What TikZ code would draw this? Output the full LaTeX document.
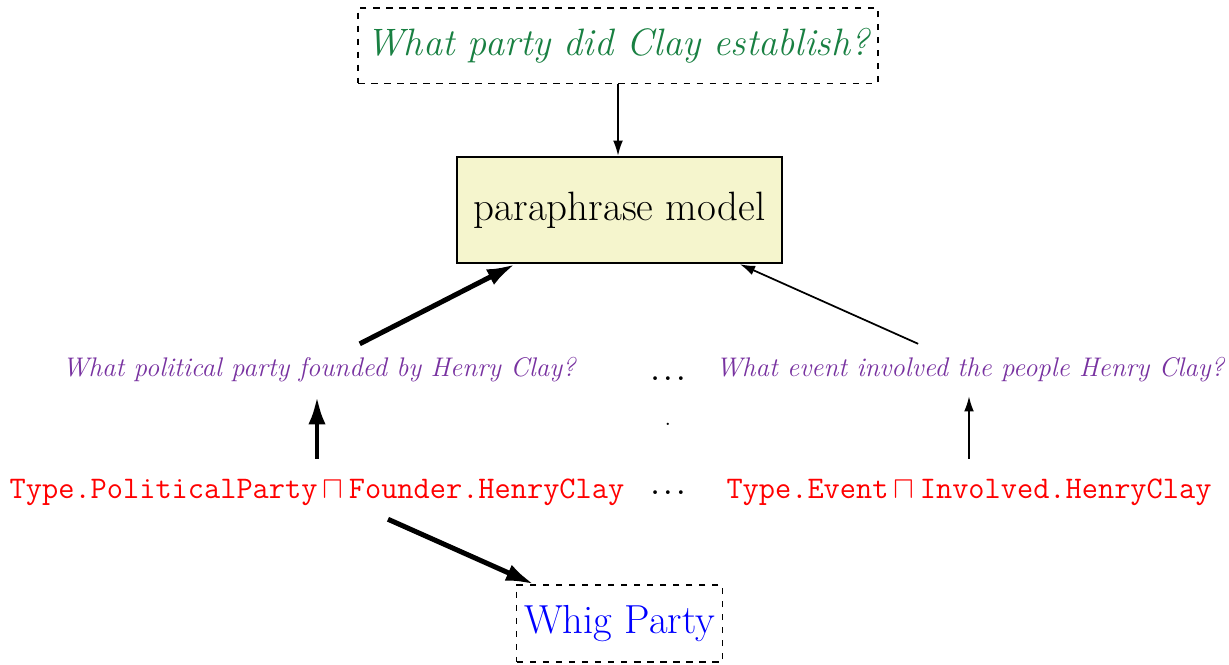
\documentclass[tikz,border=0pt]{standalone}
\usetikzlibrary{arrows.meta}
\definecolor{qgreen}{RGB}{25,128,66}
\definecolor{qpurple}{RGB}{120,50,160}
\definecolor{modelfill}{RGB}{245,245,205}
\begin{document}
\begin{tikzpicture}[x=1.62cm, y=-1.62cm,
  dbox/.style={draw, dashed, line width=0.6pt},
  para/.style={text=qpurple, font=\fontsize{12.4pt}{15pt}\selectfont\itshape},
  lform/.style={text=red, font=\fontsize{14.5pt}{17pt}\selectfont\ttfamily},
  etc/.style={font=\large\bfseries},
  bigarr/.style={line width=2.3pt, -{Latex[length=13pt,width=8pt]}},
  smallarr/.style={line width=0.8pt, -{Latex[length=7pt,width=4.5pt]}}]
\useasboundingbox (0,0) rectangle (12.29,6.64);
\node[dbox, minimum width=8.42cm, minimum height=1.22cm, text=qgreen, font=\fontsize{17.6pt}{21pt}\selectfont\itshape] (q0) at (6.18,0.455){What party did Clay establish?};
\node[draw, line width=1pt, fill=modelfill, minimum width=5.27cm, minimum height=1.72cm, font=\fontsize{18.9pt}{22pt}\selectfont] (model) at (6.195,2.10){paraphrase model};
\node[para] (p1) at (3.19,3.70){What political party founded by Henry Clay?};
\node[para] (p2) at (9.70,3.70){What event involved the people Henry Clay?};
\node[etc] (dots1) at (6.68,3.79){.\kern2.2pt.\kern2.2pt.};
\node[inner sep=0pt] (dot0) at (6.68,4.24){.};
\node[lform] (lf1) at (3.17,4.92){Type.PoliticalParty\,$\sqcap$\,Founder.HenryClay};
\node[etc] (dots2) at (6.68,4.93){.\kern2.2pt.\kern2.2pt.};
\node[lform] (lf2) at (9.69,4.92){Type.Event\,$\sqcap$\,Involved.HenryClay};
\node[dbox, minimum width=3.32cm, minimum height=1.25cm, text=blue, font=\fontsize{18.7pt}{22pt}\selectfont] (ans) at (6.195,6.235){Whig Party};
\draw[smallarr](q0.south) -- (q0.south |- model.north);
\draw[bigarr]([xshift=0.66cm, yshift=0.1cm]p1.north) -- ([xshift=-1.69cm]model.south);
\draw[smallarr]([xshift=-0.84cm, yshift=0.1cm]p2.north) -- ([xshift=1.95cm]model.south);
\draw[bigarr, shorten <=0.2cm, shorten >=0.1cm](lf1.north) -- (lf1.north |- p1.south);
\draw[smallarr, shorten <=0.2cm, shorten >=0.1cm](lf2.north) -- (lf2.north |- p2.south);
\draw[bigarr]([xshift=1.15cm, yshift=-0.1cm]lf1.south) -- ([xshift=0.29cm]ans.north west);
\end{tikzpicture}
\end{document}
